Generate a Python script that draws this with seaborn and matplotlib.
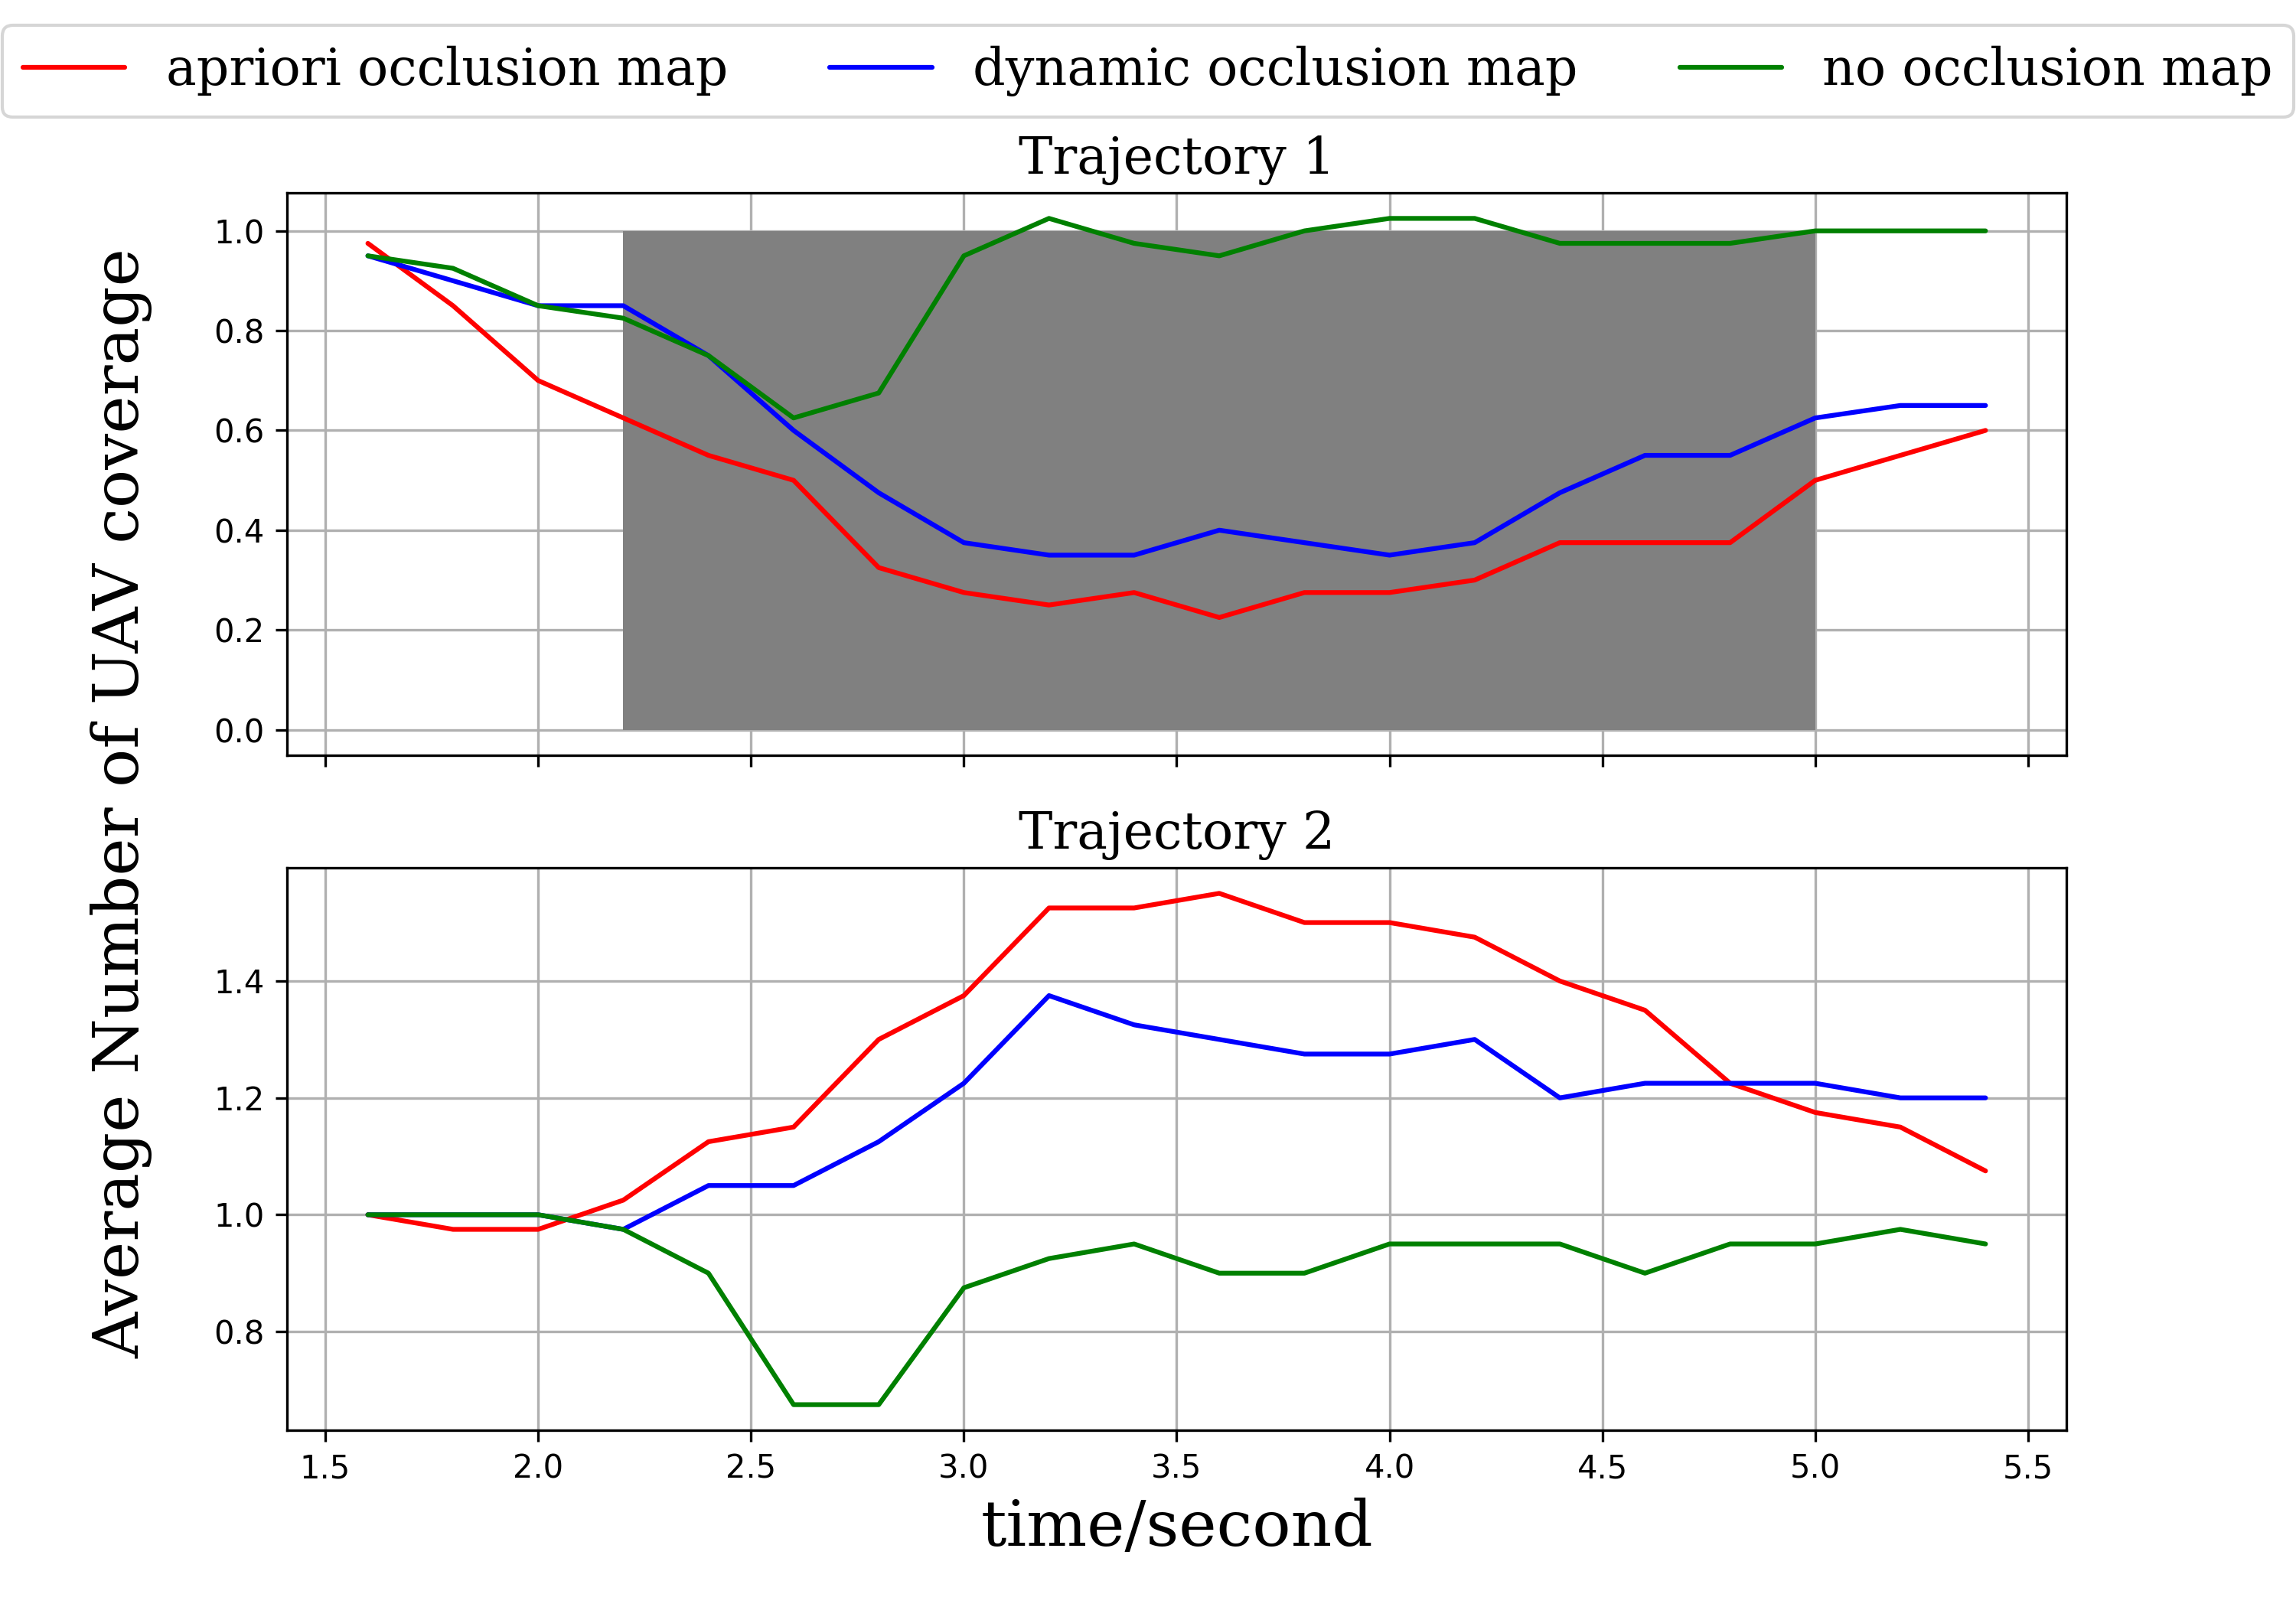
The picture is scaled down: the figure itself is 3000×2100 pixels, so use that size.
import matplotlib
matplotlib.use("Agg")
import matplotlib.pyplot as plt
import seaborn as sns
import numpy as np
import pandas as pd

time = [1.6, 1.8, 2.0, 2.2, 2.4, 2.6, 2.8, 3.0, 3.2, 3.4, 3.6, 3.8, 4.0, 4.2, 4.4, 4.6, 4.8, 5.0, 5.2, 5.4]
series_names = ["apriori occlusion map", "dynamic occlusion map", "no occlusion map"]
colors = ["red", "blue", "green"]

traj1_apriori = [0.975, 0.85, 0.70, 0.625, 0.55, 0.50, 0.325, 0.275, 0.25, 0.275, 0.225, 0.275, 0.275, 0.30, 0.375, 0.375, 0.375, 0.50, 0.55, 0.60]
traj1_dynamic = [0.95, 0.90, 0.85, 0.85, 0.75, 0.60, 0.475, 0.375, 0.35, 0.35, 0.40, 0.375, 0.35, 0.375, 0.475, 0.55, 0.55, 0.625, 0.65, 0.65]
traj1_none = [0.95, 0.925, 0.85, 0.825, 0.75, 0.625, 0.675, 0.95, 1.025, 0.975, 0.95, 1.0, 1.025, 1.025, 0.975, 0.975, 0.975, 1.0, 1.0, 1.0]

traj2_apriori = [1.0, 0.975, 0.975, 1.025, 1.125, 1.15, 1.30, 1.375, 1.525, 1.525, 1.55, 1.50, 1.50, 1.475, 1.40, 1.35, 1.225, 1.175, 1.15, 1.075]
traj2_dynamic = [1.0, 1.0, 1.0, 0.975, 1.05, 1.05, 1.125, 1.225, 1.375, 1.325, 1.30, 1.275, 1.275, 1.30, 1.20, 1.225, 1.225, 1.225, 1.20, 1.20]
traj2_none = [1.0, 1.0, 1.0, 0.975, 0.90, 0.675, 0.675, 0.875, 0.925, 0.95, 0.90, 0.90, 0.95, 0.95, 0.95, 0.90, 0.95, 0.95, 0.975, 0.95]

occlusion_start = 2.2
occlusion_end = 5.0
occlusion_low = 0.0
occlusion_high = 1.0

titles = ["Trajectory 1", "Trajectory 2"]
xticks = [1.5, 2.0, 2.5, 3.0, 3.5, 4.0, 4.5, 5.0, 5.5]

def make_df(a, d, n):
    rows = []
    for name, vals in zip(series_names, [a, d, n]):
        for t, v in zip(time, vals):
            rows.append({"time": t, "value": v, "method": name})
    return pd.DataFrame(rows)

df1 = make_df(traj1_apriori, traj1_dynamic, traj1_none)
df2 = make_df(traj2_apriori, traj2_dynamic, traj2_none)

sns.set_style("ticks")
plt.rcParams["font.family"] = ["DejaVu Sans"]
plt.rcParams["text.color"] = "black"
plt.rcParams["axes.labelcolor"] = "black"
plt.rcParams["axes.grid"] = True
plt.rcParams["grid.color"] = "#b0b0b0"
plt.rcParams["grid.linewidth"] = 0.8
plt.rcParams["axes.edgecolor"] = "black"
plt.rcParams["axes.linewidth"] = 0.8
plt.rcParams["xtick.color"] = "black"
plt.rcParams["ytick.color"] = "black"
plt.rcParams["xtick.major.size"] = 3.5
plt.rcParams["ytick.major.size"] = 3.5

palette = dict(zip(series_names, colors))

fig, axes = plt.subplots(2, 1, figsize=(10, 7), dpi=300, sharex=True)
fig.subplots_adjust(left=0.125, right=0.9, top=0.88, bottom=0.11, hspace=0.2)

ax = axes[0]
ax.fill_between([occlusion_start, occlusion_end], occlusion_low, occlusion_high, color="gray", linewidth=0)
sns.lineplot(data=df1, x="time", y="value", hue="method", palette=palette, ax=ax, legend=False, linewidth=1.5)
ax.set_title(titles[0], family="serif", fontsize=16, color="black")

ax = axes[1]
sns.lineplot(data=df2, x="time", y="value", hue="method", palette=palette, ax=ax, legend=False, linewidth=1.5)
ax.set_title(titles[1], family="serif", fontsize=16, color="black")

for ax in axes:
    ax.set_xlabel("")
    ax.set_ylabel("")
    ax.grid(True, color="#b0b0b0", linewidth=0.8)
    ax.set_xticks(xticks)
    ax.tick_params(labelsize=10, colors="black")
    for s in ax.spines.values():
        s.set_visible(True)
        s.set_color("black")

axes[1].set_xlabel("time/second", family="serif", fontsize=20, color="black")
fig.text(0.053, 0.5, "Average Number of UAV coverage", family="serif", fontsize=20,
         rotation=90, ha="center", va="center", color="black")

handles = [plt.Line2D([], [], color=c, linewidth=1.5) for c in colors]
fig.legend(handles, series_names, loc="upper center", bbox_to_anchor=(0.5, 1.0), ncol=3,
           prop={"family": "serif", "size": 16}, frameon=True, edgecolor="0.8", fancybox=True)

fig.savefig("out.png", dpi=300)
